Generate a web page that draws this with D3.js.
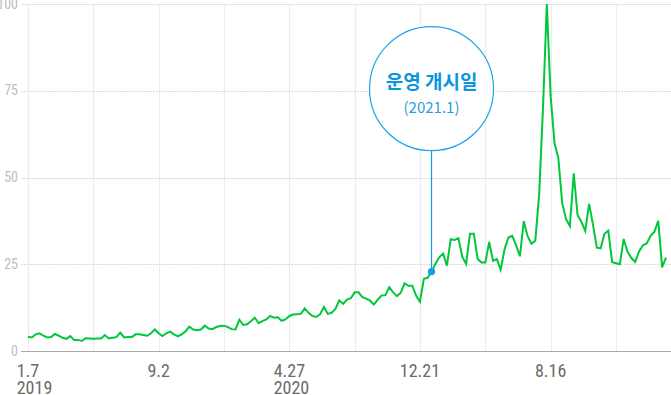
<!DOCTYPE html>
<html>
<head>
<meta charset="utf-8">
<script src="https://cdn.jsdelivr.net/npm/d3@7"></script>
<style>
  html, body { margin: 0; padding: 0; background: #fff; }
  svg { display: block; }
</style>
</head>
<body>
<svg id="chart" width="671" height="395"></svg>
<script>
// ---- data ----
const startDate = "2019-01-07";           // first weekly observation
const values = [
  4.1, 3.9, 4.8, 5.1, 4.4, 3.9, 4.0, 4.9, 4.4, 3.8,
  3.5, 4.3, 3.2, 3.2, 2.9, 3.7, 3.6, 3.5, 3.6, 3.6,
  4.6, 3.6, 3.8, 4.0, 5.3, 3.9, 4.0, 4.0, 4.8, 4.8,
  4.6, 4.4, 5.1, 6.2, 5.1, 4.3, 5.1, 5.6, 4.8, 4.2,
  4.8, 5.7, 7.0, 6.2, 6.0, 6.2, 7.3, 6.5, 6.3, 6.9,
  7.2, 7.3, 6.9, 6.3, 6.2, 9.0, 7.5, 7.7, 8.6, 9.6,
  8.0, 8.6, 9.1, 10.1, 9.6, 9.7, 8.7, 9.1, 10.1, 10.5,
  10.6, 10.7, 12.3, 11.0, 10.1, 9.8, 10.6, 12.7, 10.7, 11.0,
  12.1, 14.6, 13.6, 14.8, 15.2, 16.9, 16.9, 15.5, 15.1, 14.5,
  13.4, 14.8, 16.0, 16.1, 18.4, 16.9, 15.8, 16.8, 19.5, 18.8,
  18.8, 15.9, 14.2, 20.8, 21.1, 22.9, 25.1, 27.0, 28.1, 24.6,
  32.2, 32.0, 32.5, 27.2, 25.1, 33.8, 33.8, 26.5, 25.5, 25.5,
  31.4, 26.0, 26.5, 23.4, 29.3, 32.7, 33.2, 30.5, 27.3, 37.4,
  33.1, 30.9, 31.8, 45.0, 70.0, 100, 73.3, 59.9, 55.6, 42.6,
  38.0, 36.0, 51.2, 39.2, 37.2, 34.6, 42.4, 36.5, 29.8, 29.6,
  33.8, 34.7, 25.6, 25.3, 25.0, 32.3, 28.6, 26.8, 25.7, 28.7,
  30.5, 31.0, 33.2, 34.4, 37.5, 24.1, 26.9
];
const yTicks = [0, 25, 50, 75, 100];
const dottedTicks = [25, 75];
const xTickDates = ["2019-01-07", "2019-09-02", "2020-04-27", "2020-12-21", "2021-08-16"];
const xTickLabels = ["1.7", "9.2", "4.27", "12.21", "8.16"];
const xTickYears = ["2019", "", "2020", "", ""];
const gridWeekStep = 17;
const gridCount = 10;
const annotationDate = "2021-01-11";
const annotationTitle = "운영 개시일";
const annotationSub = "(2021.1)";

// ---- setup ----
const parse = d3.timeParse("%Y-%m-%d");
const d0 = parse(startDate);
const data = values.map((v, i) => ({ date: d3.timeWeek.offset(d0, i), value: v }));

const svg = d3.select("#chart");
const x = d3.scaleTime()
  .domain([d0, d3.timeWeek.offset(d0, 153)])
  .range([28, 616]);
const y = d3.scaleLinear().domain([0, 100]).range([351, 4]);

const numFont = "'Liberation Sans Narrow', 'Arial Narrow', 'Roboto Condensed', sans-serif";

// vertical grid
const gridDates = d3.range(gridCount).map(k => d3.timeWeek.offset(d0, k * gridWeekStep));
svg.append("g").selectAll("line").data(gridDates).join("line")
  .attr("x1", d => Math.round(x(d)) + 0.5).attr("x2", d => Math.round(x(d)) + 0.5)
  .attr("y1", y(100)).attr("y2", y(0))
  .attr("stroke", "#ececec").attr("stroke-width", 1.2);

// horizontal grid
svg.append("g").selectAll("line").data(yTicks.filter(t => t > 0)).join("line")
  .attr("x1", 21).attr("x2", 671)
  .attr("y1", d => Math.round(y(d)) + 0.5).attr("y2", d => Math.round(y(d)) + 0.5)
  .attr("stroke", d => dottedTicks.includes(d) ? "#d9d9d9" : "#e3e3e3")
  .attr("stroke-width", 1)
  .attr("stroke-dasharray", d => dottedTicks.includes(d) ? "2,1" : null);

// baseline
svg.append("line")
  .attr("x1", 21).attr("x2", 671)
  .attr("y1", Math.round(y(0)) + 0.5).attr("y2", Math.round(y(0)) + 0.5)
  .attr("stroke", "#a9a9a9").attr("stroke-width", 1.2);

// y labels
svg.append("g").selectAll("text").data(yTicks).join("text")
  .attr("x", 18).attr("y", d => y(d) + 1)
  .attr("text-anchor", "end").attr("dominant-baseline", "middle")
  .attr("font-family", numFont).attr("font-size", 14)
  .attr("fill", "#bdbdbd")
  .text(d => d);

// x labels
const xg = svg.append("g");
xTickDates.forEach((ds, i) => {
  const cx = x(parse(ds));
  const t = xg.append("text")
    .attr("x", cx).attr("y", 376.5)
    .attr("text-anchor", "middle")
    .attr("font-family", numFont).attr("font-size", 18)
    .attr("fill", "#6b6b6b")
    .text(xTickLabels[i]);
  if (xTickYears[i]) {
    const w = t.node().getComputedTextLength();
    xg.append("text")
      .attr("x", cx - w / 2).attr("y", 394)
      .attr("text-anchor", "start")
      .attr("font-family", numFont).attr("font-size", 18)
      .attr("fill", "#6b6b6b")
      .text(xTickYears[i]);
  }
});

// line
const line = d3.line().x(d => x(d.date)).y(d => y(d.value));
svg.append("path").datum(data)
  .attr("d", line)
  .attr("fill", "none")
  .attr("stroke", "#00c73c")
  .attr("stroke-width", 2);

// annotation
const ad = parse(annotationDate);
const ap = data.find(d => +d.date === +ad);
const ax = x(ap.date), ay = y(ap.value);
const cy = 88.7, r = 62;
svg.append("line")
  .attr("x1", ax).attr("x2", ax)
  .attr("y1", cy + r).attr("y2", ay)
  .attr("stroke", "#0b9be3").attr("stroke-width", 1.2);
svg.append("circle")
  .attr("cx", ax).attr("cy", cy).attr("r", r)
  .attr("fill", "#fff").attr("stroke", "#1aa3e8").attr("stroke-width", 1.2);
svg.append("circle")
  .attr("cx", ax).attr("cy", ay).attr("r", 3.6)
  .attr("fill", "#1a9be6");
svg.append("text")
  .attr("x", ax).attr("y", 89)
  .attr("text-anchor", "middle")
  .attr("font-family", "'Noto Sans CJK KR', sans-serif")
  .attr("font-weight", "bold").attr("font-size", 19)
  .attr("fill", "#0a96dc")
  .text(annotationTitle);
svg.append("text")
  .attr("x", ax).attr("y", 112.5)
  .attr("text-anchor", "middle")
  .attr("font-family", "'Noto Sans CJK KR', sans-serif")
  .attr("font-size", 15)
  .attr("fill", "#2a9fe0")
  .text(annotationSub);
</script>
</body>
</html>
